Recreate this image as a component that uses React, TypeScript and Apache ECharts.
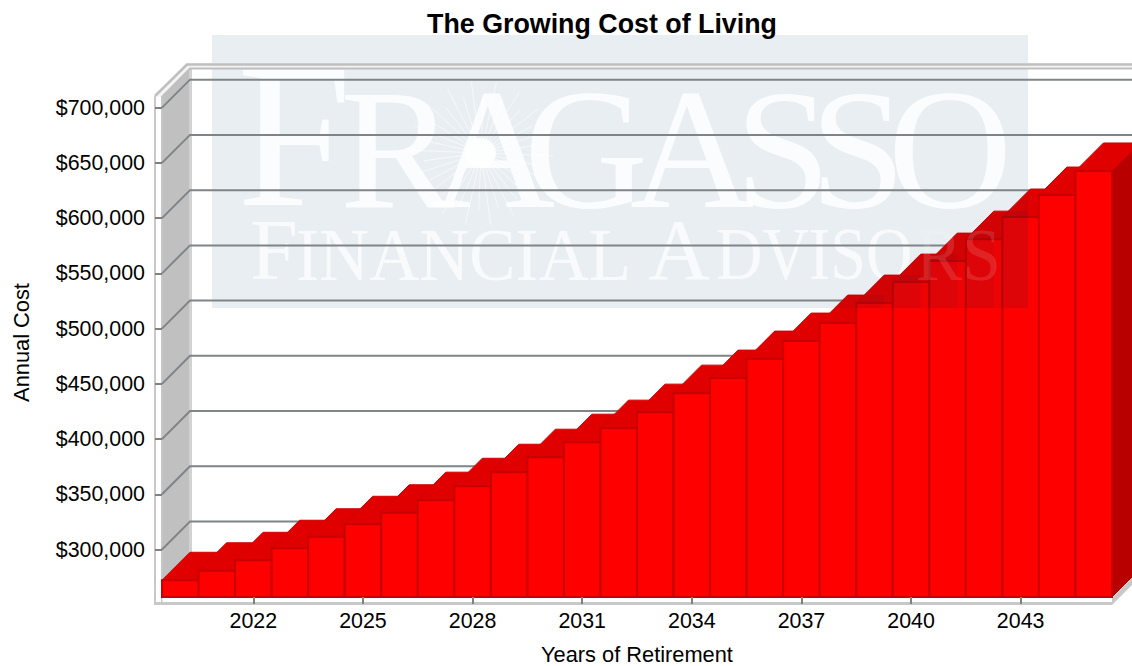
import React, { useEffect, useRef } from "react";
import * as echarts from "echarts";

const years = ["2020","2021","2022","2023","2024","2025","2026","2027","2028","2029","2030","2031","2032","2033","2034","2035","2036","2037","2038","2039","2040","2041","2042","2043","2044","2045"];
const costs = [272200,280800,290300,301200,311600,322900,333300,344700,357300,370000,383600,397200,409900,424400,441600,455200,472400,488700,505000,523100,542100,561100,581000,601000,620900,642700];
const yTicks = [300000,350000,400000,450000,500000,550000,600000,650000,700000];

const FONT = "Liberation Sans";
const SERIF = "Liberation Serif";
const D = 28;
const WM = { x0: 212, x1: 1028, y0: 35, y1: 308 };

const bigLetters: [string, number, number][] = [
  ["F", 237, 206], ["R", 340, 172], ["A", 431, 172], ["G", 524, 172],
  ["A", 630, 172], ["S", 735, 172], ["S", 810, 172], ["O", 888, 172],
];
const subLetters: [string, number, number, number][] = [
  ["F", 250, 86, 1], ["INANCIAL", 296, 73, 0.95], ["A", 648, 86, 1], ["DVISO", 716, 73, 0.88],
];
const subLettersOnBars: [string, number, number, number][] = [["RS", 916, 73, 0.95]];

function clipPoly(pts: number[][], inside: (p: number[]) => boolean, cut: (a: number[], b: number[]) => number[]) {
  const out: number[][] = [];
  pts.forEach((p, i) => {
    const q = pts[(i + 1) % pts.length];
    const pi = inside(p), qi = inside(q);
    if (pi) out.push(p);
    if (pi !== qi) out.push(cut(p, q));
  });
  return out;
}
function toWatermark(pts: number[][]) {
  const cutX = (v: number) => (a: number[], b: number[]) => [v, a[1] + ((v - a[0]) / (b[0] - a[0])) * (b[1] - a[1])];
  const cutY = (v: number) => (a: number[], b: number[]) => [a[0] + ((v - a[1]) / (b[1] - a[1])) * (b[0] - a[0]), v];
  let r = clipPoly(pts, (p) => p[0] <= WM.x1, cutX(WM.x1));
  if (r.length) r = clipPoly(r, (p) => p[1] <= WM.y1, cutY(WM.y1));
  return r;
}

function barFaces(api: any) {
  const [cx, top] = api.coord([api.value(0), api.value(1)]);
  const [, base] = api.coord([api.value(0), 257066]);
  const w = api.size([1, 0])[0];
  const l = cx - w / 2, r = cx + w / 2;
  return {
    side: [[r, top], [r + D, top - D], [r + D, base - D], [r, base]],
    topF: [[l, top], [l + D, top - D], [r + D, top - D], [r, top]],
    front: [[l, top], [r, top], [r, base], [l, base]],
  };
}

export default function App() {
  const ref = useRef<HTMLDivElement>(null);
  useEffect(() => {
    document.body.style.margin = "0";
    const chart = echarts.init(ref.current!, null, { renderer: "svg" });

    const rays: any[] = [];
    for (let i = 0; i < 36; i++) {
      const a = (i * Math.PI * 2) / 36 + 0.04;
      const len = i % 2 ? 58 : 72;
      rays.push({
        type: "line", z: 1,
        shape: { x1: 481 + 14 * Math.cos(a), y1: 153 + 14 * Math.sin(a), x2: 481 + len * Math.cos(a), y2: 153 + len * Math.sin(a) },
        style: { stroke: "rgba(255,255,255,0.6)", lineWidth: 1 },
      });
    }

    const letterStyle = (text: string, size: number, alpha: number) => ({
      text, fill: `rgba(255,255,255,${alpha})`, font: `${size}px "${SERIF}"`,
    });

    chart.setOption({
      animation: false,
      backgroundColor: "#ffffff",
      title: {
        text: "The Growing Cost of Living",
        left: 597, top: 5, textAlign: "center",
        textStyle: { fontFamily: FONT, fontSize: 26.8, fontWeight: "bold", color: "#000" },
      },
      grid: { left: 162, right: 20, top: 88, bottom: 69, outerBoundsMode: "none" },
      xAxis: {
        type: "category", data: years, z: 10,
        name: "Years of Retirement", nameLocation: "center", nameGap: 46,
        nameTextStyle: { fontFamily: FONT, fontSize: 21.8, color: "#000" },
        axisLine: { show: false },
        axisTick: { show: true, alignWithLabel: true, length: 7, interval: (i: number) => (i - 2) % 3 === 0 && i >= 2, lineStyle: { color: "#808080", width: 2 } },
        axisLabel: { interval: (i: number) => (i - 2) % 3 === 0 && i >= 2, margin: 13, fontFamily: FONT, fontSize: 21.4, color: "#000" },
        splitLine: { show: false },
      },
      yAxis: {
        type: "value", min: 257066, max: 717800, z: 10,
        name: "Annual Cost", nameLocation: "center", nameGap: 130, nameRotate: 90,
        nameTextStyle: { fontFamily: FONT, fontSize: 21.8, color: "#000" },
        axisLine: { show: false },
        axisTick: { show: true, length: 7, customValues: yTicks, lineStyle: { color: "#808080", width: 2 } },
        axisLabel: { customValues: yTicks, margin: 17, fontFamily: FONT, fontSize: 21.4, color: "#000", formatter: (v: number) => "$" + v.toLocaleString("en-US") },
        splitLine: { show: false },
      },
      graphic: [
        { type: "rect", z: 0, shape: { x: WM.x0, y: WM.y0, width: WM.x1 - WM.x0, height: WM.y1 - WM.y0 }, style: { fill: "#e9eef3" } },
        ...rays,
        { type: "circle", z: 1, shape: { cx: 481, cy: 153, r: 15 }, style: { fill: "rgba(255,255,255,0.9)" } },
        ...bigLetters.map(([c, x, size]) => ({
          type: "text", z: 1, x, y: 215 - size * 0.885, style: { ...letterStyle(c, size, 0.82), textVerticalAlign: "top" },
        })),
        ...subLetters.map(([c, x, size, sx]) => ({
          type: "text", z: 1, x, y: 283 - size * 0.885, scaleX: sx, style: { ...letterStyle(c, size, 0.72), textVerticalAlign: "top" },
        })),
        ...subLettersOnBars.map(([c, x, size, sx]) => ({
          type: "text", z: 6, x, y: 283 - size * 0.885, scaleX: sx, style: { ...letterStyle(c, size, 0.12), textVerticalAlign: "top" },
        })),
      ],
      series: [
        {
          type: "custom", name: "frame", z: 3, silent: true, data: [[0, 300000]],
          renderItem: (params: any) => {
            const g = params.coordSys;
            const L = g.x, R = g.x + g.width, B = 597;
            const gray = "#c8c8c8";
            return {
              type: "group",
              children: [
                { type: "polygon", shape: { points: [[L, B], [L + D, B - D], [R + D, B - D], [R, B]] }, style: { fill: "#ffffff" } },
                { type: "polygon", shape: { points: [[L, B], [L + D, B - D], [L + D, 69], [L, 97]] }, style: { fill: "#c0c0c0" } },
                { type: "rect", shape: { x: L + 27, y: 68, width: 3, height: B - D - 68 }, style: { fill: "#d2d2d2" } },
                { type: "polygon", shape: { points: [[154, 96], [186, 63], [1132, 63], [1132, 69], [L + D, 69], [L, 97]] }, style: { fill: "#f4f4f4" } },
                { type: "polyline", shape: { points: [[155, 96], [187, 64.5], [1132, 64.5]] }, style: { stroke: "#bfbfbf", lineWidth: 2.5, fill: "none" } },
                { type: "polyline", shape: { points: [[L, 97], [L + D, 68.5], [1132, 68.5]] }, style: { stroke: "#bfbfbf", lineWidth: 2, fill: "none" } },
                { type: "rect", shape: { x: 154, y: 96, width: 2, height: 509 }, style: { fill: gray } },
                { type: "rect", shape: { x: 161, y: 96, width: 1.5, height: 509 }, style: { fill: gray } },
                { type: "rect", shape: { x: 154, y: 602, width: R - 154, height: 3 }, style: { fill: gray } },
                { type: "polygon", shape: { points: [[R, B + 1], [R + 20, B - 19], [R + 20, B - 12], [R, 605]] }, style: { fill: gray } },
              ],
            };
          },
        },
        {
          type: "custom", name: "gridlines", z: 3, silent: true,
          data: yTicks.map((v) => [0, v]),
          renderItem: (params: any, api: any) => {
            const g = params.coordSys;
            const y = api.coord([0, api.value(1)])[1];
            return {
              type: "polyline",
              shape: { points: [[g.x, y], [g.x + D, y - D], [1132, y - D]] },
              style: { stroke: "#7f8487", lineWidth: 2, fill: "none" },
            };
          },
        },
        {
          type: "custom", name: "Annual Cost", z: 4, silent: true,
          data: costs.map((v, i) => [i, v]),
          renderItem: (_: any, api: any) => {
            const f = barFaces(api);
            return {
              type: "group",
              children: [
                { type: "polygon", shape: { points: f.side }, style: { fill: "#b80000", stroke: "#b80000", lineWidth: 1 } },
                { type: "polygon", shape: { points: f.topF }, style: { fill: "#e00000", stroke: "#d00000", lineWidth: 1 } },
                { type: "polygon", shape: { points: f.front }, style: { fill: "#ff0000", stroke: "#c80000", lineWidth: 2 } },
              ],
            };
          },
        },
        {
          type: "custom", name: "tint", z: 5, silent: true,
          data: costs.map((v, i) => [i, v]),
          renderItem: (_: any, api: any) => {
            const f = barFaces(api);
            const fill = "rgba(0,40,80,0.065)";
            const children = [f.side, f.topF, f.front]
              .map((p) => toWatermark(p))
              .filter((p) => p.length > 2)
              .map((p) => ({ type: "polygon", shape: { points: p }, style: { fill } }));
            return { type: "group", children };
          },
        },
      ],
    });
    return () => chart.dispose();
  }, []);
  return <div ref={ref} style={{ position: "absolute", left: 0, top: 0, width: 1132, height: 666 }} />;
}
